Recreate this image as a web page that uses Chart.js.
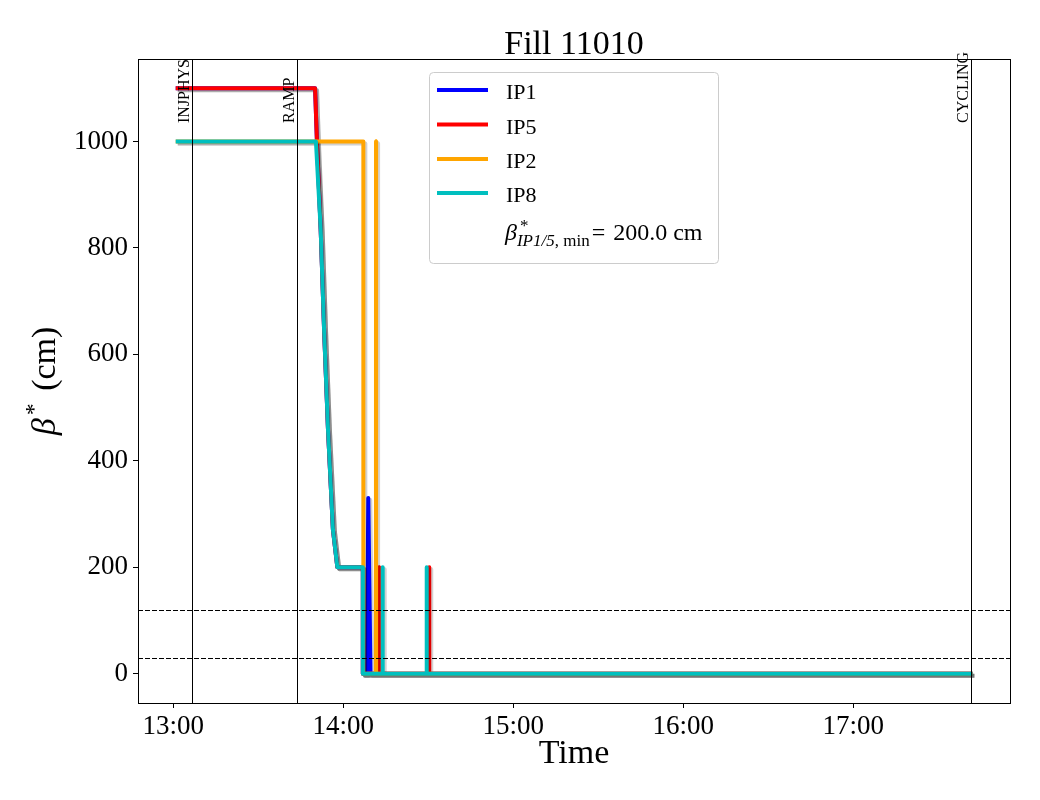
<!DOCTYPE html>
<html>
<head>
<meta charset="utf-8">
<script src="https://cdn.jsdelivr.net/npm/chart.js@4.4.1/dist/chart.umd.min.js"></script>
<style>
  html, body { margin: 0; padding: 0; background: #fff; }
  canvas { display: block; }
</style>
</head>
<body>
<canvas id="chart" width="1040" height="800"></canvas>
<script>
// --- data (time in decimal hours, beta* in cm) ---
const fillTitle = 'Fill 11010';
const seriesNames = ['IP1', 'IP5', 'IP2', 'IP8'];

const ip1Time = [13.026, 13.834, 13.845, 13.867, 13.887, 13.910, 13.939, 13.965, 14.115, 14.115, 14.139, 14.147, 14.149, 14.160, 17.689];
const ip1Beta = [1100, 1100, 1000, 835, 647, 459, 271, 200, 200, 0, 0, 330, 330, 0, 0];

const ip5Time = [13.026, 13.834, 13.845, 13.867, 13.887, 13.910, 13.939, 13.965, 14.115, 14.115, 14.210, 14.2105, 14.211, 14.505, 14.5055, 14.506, 17.689];
const ip5Beta = [1100, 1100, 1000, 835, 647, 459, 271, 200, 200, 0, 0, 200, 0, 0, 200, 0, 0];

const ip2Time = [13.026, 14.118, 14.118, 14.192, 14.1925, 14.193, 17.689];
const ip2Beta = [1000, 1000, 0, 0, 1000, 0, 0];

const ip8Time = [13.026, 13.839, 13.867, 13.887, 13.910, 13.939, 13.965, 14.115, 14.115, 14.231, 14.2315, 14.232, 14.490, 14.4905, 14.491, 17.689];
const ip8Beta = [1000, 1000, 835, 647, 459, 271, 200, 200, 0, 0, 200, 0, 0, 200, 0, 0];

const markerNames = ['INJPHYS', 'RAMP', 'CYCLING'];
const markerTimes = [13.112, 13.729, 17.691];
const refLevels = [120, 30];
const betaMinLabel = '200.0 cm';

const xTickHours = [13, 14, 15, 16, 17];
const yTickValues = [0, 200, 400, 600, 800, 1000];

const seriesColors = ['#0000ff', '#ff0000', '#ffa500', '#00bfbf'];
const serif = '"Liberation Serif", "DejaVu Serif", serif';

const toPoints = (ts, vs) => ts.map((t, i) => ({ x: t, y: vs[i] }));
const seriesData = [
  toPoints(ip1Time, ip1Beta),
  toPoints(ip5Time, ip5Beta),
  toPoints(ip2Time, ip2Beta),
  toPoints(ip8Time, ip8Beta)
];

// draw a row of text pieces; a "stack" piece starts where the last base piece ended
function drawPieces(ctx, pieces, x, y) {
  let cx = x;
  let lastStart = x;
  for (const p of pieces) {
    ctx.font = p.font;
    const start = p.stack ? lastStart : cx + (p.gap || 0);
    ctx.fillText(p.text, start, y + (p.dy || 0));
    const end = start + ctx.measureText(p.text).width;
    if (!p.stack && !p.sup) lastStart = end;
    cx = p.stack ? Math.max(cx, end) : end;
  }
  return cx;
}
function piecesWidth(ctx, pieces) {
  ctx.save();
  ctx.globalAlpha = 0;
  const w = drawPieces(ctx, pieces, 0, 0);
  ctx.restore();
  return w;
}

const decorPlugin = {
  id: 'decor',
  beforeDatasetDraw(chart) {
    const ctx = chart.ctx;
    ctx.save();
    ctx.shadowColor = 'rgba(0,0,0,0.18)';
    ctx.shadowOffsetX = 2;
    ctx.shadowOffsetY = 2;
    ctx.shadowBlur = 0;
  },
  afterDatasetDraw(chart) {
    chart.ctx.restore();
  },
  afterDatasetsDraw(chart) {
    const ctx = chart.ctx;
    const area = chart.chartArea;
    const xs = chart.scales.x, ys = chart.scales.y;
    ctx.save();
    ctx.strokeStyle = '#000';
    ctx.lineWidth = 1;

    // dashed reference levels
    ctx.setLineDash([5, 2]);
    refLevels.forEach(v => {
      const py = Math.round(ys.getPixelForValue(v)) + 0.5;
      ctx.beginPath();
      ctx.moveTo(area.left, py);
      ctx.lineTo(area.right, py);
      ctx.stroke();
    });
    ctx.setLineDash([]);

    // beam mode markers
    ctx.fillStyle = '#000';
    ctx.font = '16px ' + serif;
    markerTimes.forEach((t, i) => {
      const px = Math.round(xs.getPixelForValue(t)) + 0.5;
      ctx.beginPath();
      ctx.moveTo(px, area.top);
      ctx.lineTo(px, area.bottom);
      ctx.stroke();
      ctx.save();
      ctx.translate(px - 4, 123);
      ctx.rotate(-Math.PI / 2);
      ctx.textAlign = 'left';
      ctx.textBaseline = 'alphabetic';
      ctx.fillText(markerNames[i], 0, 0);
      ctx.restore();
    });

    // frame
    ctx.strokeRect(Math.round(area.left) + 0.5, Math.round(area.top) + 0.5,
      Math.round(area.right - area.left), Math.round(area.bottom - area.top));
    ctx.restore();
  },
  afterDraw(chart) {
    const ctx = chart.ctx;
    const area = chart.chartArea;
    const midX = (area.left + area.right) / 2;
    ctx.save();
    ctx.fillStyle = '#000';
    ctx.textBaseline = 'alphabetic';

    // title
    ctx.font = '34px ' + serif;
    ctx.textAlign = 'center';
    ctx.fillText(fillTitle, midX, 54);

    // x title
    ctx.fillText('Time', midX, 763);

    // y title
    ctx.textAlign = 'left';
    const yPieces = [
      { text: '\u03b2', font: 'italic 34px ' + serif },
      { text: '*', font: '24px ' + serif, dy: -14, gap: 3 },
      { text: ' (cm)', font: '34px ' + serif, gap: 4 }
    ];
    const yw = piecesWidth(ctx, yPieces);
    ctx.save();
    ctx.translate(55, (area.top + area.bottom) / 2);
    ctx.rotate(-Math.PI / 2);
    drawPieces(ctx, yPieces, -yw / 2, 0);
    ctx.restore();

    // legend
    const lx = 429.5, ly = 72.5, lw = 289, lh = 191;
    ctx.beginPath();
    ctx.roundRect(lx, ly, lw, lh, 4);
    ctx.fillStyle = 'rgba(255,255,255,0.8)';
    ctx.fill();
    ctx.strokeStyle = '#cccccc';
    ctx.lineWidth = 1;
    ctx.stroke();

    const rowY = [90, 124.5, 159, 193];
    ctx.lineWidth = 4;
    seriesNames.forEach((name, i) => {
      ctx.strokeStyle = seriesColors[i];
      ctx.beginPath();
      ctx.moveTo(437, rowY[i]);
      ctx.lineTo(488, rowY[i]);
      ctx.stroke();
      ctx.fillStyle = '#000';
      ctx.font = '22px ' + serif;
      ctx.fillText(name, 506, rowY[i] + 9);
    });
    ctx.fillStyle = '#000';
    drawPieces(ctx, [
      { text: '\u03b2', font: 'italic 24px ' + serif },
      { text: '*', font: '17px ' + serif, dy: -9, gap: 3, sup: true },
      { text: 'IP1/5', font: 'italic 17px ' + serif, dy: 6, stack: true },
      { text: ', min', font: '17px ' + serif, dy: 6 },
      { text: '=', font: '24px ' + serif, gap: 2 },
      { text: betaMinLabel, font: '24px ' + serif, gap: 8 }
    ], 505, 240);
    ctx.restore();
  }
};

new Chart(document.getElementById('chart'), {
  type: 'line',
  data: {
    datasets: seriesNames.map((name, i) => ({
      label: name,
      data: seriesData[i],
      borderColor: seriesColors[i],
      backgroundColor: seriesColors[i],
      borderWidth: 4,
      pointRadius: 0,
      tension: 0,
      fill: false,
      borderJoinStyle: 'round',
      borderCapStyle: 'square',
      order: seriesNames.length - i
    }))
  },
  options: {
    responsive: false,
    animation: false,
    devicePixelRatio: 1,
    layout: { padding: { top: 59, right: 30, left: 0, bottom: 0 } },
    plugins: {
      legend: { display: false },
      title: { display: false },
      tooltip: { enabled: false }
    },
    scales: {
      x: {
        type: 'linear',
        min: 12.7924,
        max: 17.9218,
        afterBuildTicks: s => { s.ticks = xTickHours.map(v => ({ value: v })); },
        afterFit: s => { s.height = 97; },
        grid: { display: true, drawOnChartArea: false, drawTicks: true, tickLength: 5, color: '#000', lineWidth: 1 },
        border: { display: false },
        ticks: {
          callback: v => String(v).padStart(2, '0') + ':00',
          maxRotation: 0,
          autoSkip: false,
          padding: 3,
          color: '#000',
          font: { family: serif, size: 27 }
        }
      },
      y: {
        type: 'linear',
        min: -55,
        max: 1155,
        afterBuildTicks: s => { s.ticks = yTickValues.map(v => ({ value: v })); },
        afterFit: s => { s.width = 138; },
        grid: { display: true, drawOnChartArea: false, drawTicks: true, tickLength: 5, color: '#000', lineWidth: 1 },
        border: { display: false },
        ticks: {
          callback: v => String(v),
          padding: 5,
          color: '#000',
          font: { family: serif, size: 27 }
        }
      }
    }
  },
  plugins: [decorPlugin]
});
</script>
</body>
</html>
